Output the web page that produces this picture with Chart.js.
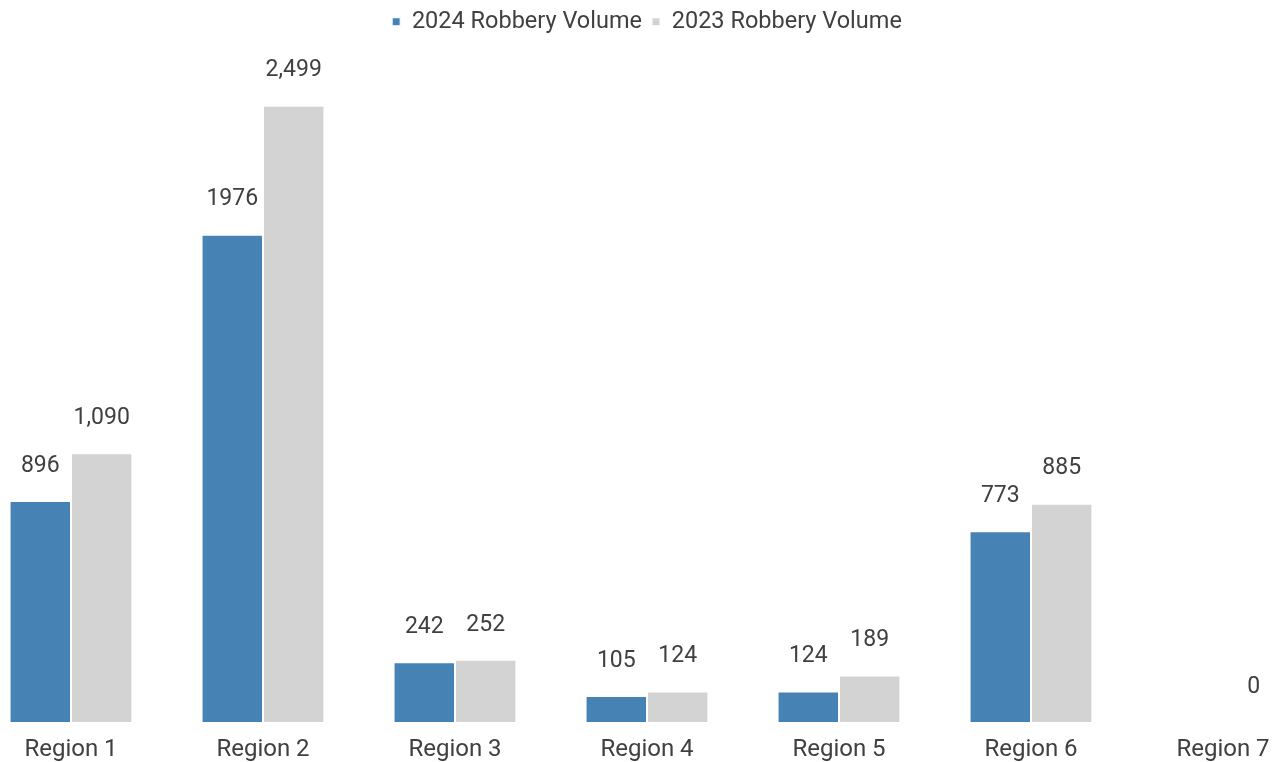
<!DOCTYPE html>
<html>
<head>
<meta charset="utf-8">
<script src="https://cdn.jsdelivr.net/npm/chart.js"></script>
<style>
  html, body { margin: 0; padding: 0; background: #fff; overflow: hidden; }
  #wrap { position: absolute; left: -25px; top: 0; width: 1344px; height: 762px; }
</style>
</head>
<body>
<div id="wrap"><canvas id="robbery-chart"></canvas></div>
<script>
// 数据
const regions = ['Region 1', 'Region 2', 'Region 3', 'Region 4', 'Region 5', 'Region 6', 'Region 7'];
const volume2024 = [896, 1976, 242, 105, 124, 773, null];
const volume2023 = [1090, 2499, 252, 124, 189, 885, 0];

const textColor = '#404040';

// 柱子上方的数值标签
const barLabels = {
    id: 'barLabels',
    afterDatasetsDraw(chart) {
        const ctx = chart.ctx;
        ctx.save();
        ctx.font = '23px Roboto';
        ctx.fillStyle = textColor;
        ctx.textAlign = 'center';
        ctx.textBaseline = 'middle';
        chart.data.datasets.forEach((ds, i) => {
            const meta = chart.getDatasetMeta(i);
            meta.data.forEach((bar, j) => {
                const v = ds.data[j];
                if (v === null || v === undefined) return;
                const txt = ds.thousands ? v.toLocaleString('en-US') : String(v);
                ctx.fillText(txt, bar.x, bar.y - 35);
            });
        });
        ctx.restore();
    }
};

const ctx = document.getElementById('robbery-chart');
new Chart(ctx, {
    type: 'bar',
    data: {
        labels: regions,
        datasets: [
            {
                label: '2024 Robbery Volume',
                data: volume2024,
                backgroundColor: '#4682B4',
                borderColor: '#ffffff',
                borderWidth: 1,
                thousands: false
            },
            {
                label: '2023 Robbery Volume',
                data: volume2023,
                backgroundColor: '#D3D3D3',
                borderColor: '#ffffff',
                borderWidth: 1,
                thousands: true
            }
        ]
    },
    options: {
        responsive: true,
        maintainAspectRatio: false,
        animation: false,
        categoryPercentage: 0.64,
        barPercentage: 1,
        layout: { padding: 0 },
        plugins: {
            legend: {
                position: 'top',
                labels: {
                    color: textColor,
                    font: { family: 'Roboto', size: 23.5 },
                    boxWidth: 8,
                    boxHeight: 8,
                    padding: 10
                }
            },
            tooltip: { enabled: false }
        },
        scales: {
            x: {
                grid: { display: false, drawTicks: false },
                border: { display: false },
                ticks: {
                    color: textColor,
                    font: { family: 'Roboto', size: 24 },
                    padding: 14,
                    maxRotation: 0
                },
                afterFit(scale) { scale.height = 40; }
            },
            y: {
                display: false,
                min: 0,
                max: 2751
            }
        }
    },
    plugins: [barLabels]
});
</script>
</body>
</html>
